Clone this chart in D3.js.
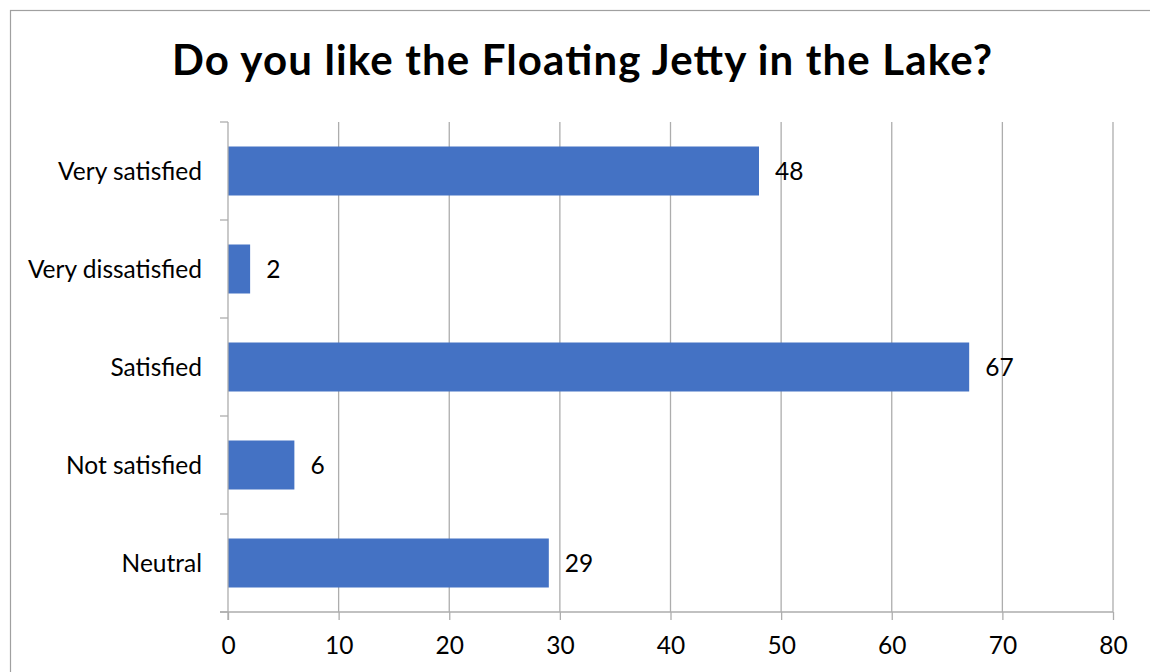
<!DOCTYPE html>
<html>
<head>
<meta charset="utf-8">
<script src="https://cdn.jsdelivr.net/npm/d3@7"></script>
<style>
  html, body { margin: 0; padding: 0; background: #fff; }
  svg { display: block; }
</style>
</head>
<body>
<svg id="chart" width="1150" height="672"></svg>
<script>
// Survey responses
const categories = ["Very satisfied", "Very dissatisfied", "Satisfied", "Not satisfied", "Neutral"];
const counts = [48, 2, 67, 6, 29];
const xTicks = [0, 10, 20, 30, 40, 50, 60, 70, 80];
const title = "Do you like the Floating Jetty in the Lake?";

const svg = d3.select("#chart");
const W = 1150, H = 672;
const font = "Lato, 'Open Sans', sans-serif";
const gridColor = "#adadad";
const labelSize = 24.5;

// Outer chart frame
svg.append("rect")
  .attr("x", 10.5).attr("y", 10.5)
  .attr("width", W + 10).attr("height", H + 10)
  .attr("fill", "#fff").attr("stroke", "#a0a0a0").attr("stroke-width", 1.2);

const plot = { left: 228, right: 1113, top: 122, bottom: 612 };

const x = d3.scaleLinear().domain([0, 80]).range([plot.left, plot.right]);
const y = d3.scaleBand().domain(categories)
  .range([plot.top, plot.bottom])
  .paddingInner(0.5).paddingOuter(0.25);

// Title
svg.append("text")
  .attr("x", 582).attr("y", 75)
  .attr("text-anchor", "middle")
  .attr("font-family", font).attr("font-weight", 700)
  .attr("font-size", 42)
  .attr("textLength", 820).attr("lengthAdjust", "spacing")
  .attr("fill", "#000")
  .text(title);

// Vertical gridlines
svg.append("g").selectAll("line")
  .data(xTicks.filter(d => d > 0))
  .join("line")
  .attr("x1", d => x(d)).attr("x2", d => x(d))
  .attr("y1", plot.top).attr("y2", plot.bottom)
  .attr("stroke", gridColor).attr("stroke-width", 1.3);

// Bars
const rows = categories.map((c, i) => ({ cat: c, val: counts[i] }));
svg.append("g").selectAll("rect")
  .data(rows)
  .join("rect")
  .attr("x", x(0))
  .attr("y", d => y(d.cat))
  .attr("width", d => x(d.val) - x(0))
  .attr("height", y.bandwidth())
  .attr("fill", "#4472c4");

// X axis
const xAxis = svg.append("g")
  .attr("transform", `translate(0,${plot.bottom})`)
  .call(d3.axisBottom(x).tickValues(xTicks).tickSize(8).tickPadding(17).tickFormat(d3.format("d")));
xAxis.select(".domain").attr("stroke", gridColor).attr("stroke-width", 1.3).attr("d", `M${plot.left - 8},0H${plot.right}`);
xAxis.selectAll(".tick line").attr("stroke", gridColor).attr("stroke-width", 1.3);
xAxis.selectAll(".tick text")
  .attr("font-family", font).attr("font-size", labelSize).attr("fill", "#000");

// Y axis: ticks sit at band boundaries
const yAxis = svg.append("g").attr("transform", `translate(${plot.left},0)`);
yAxis.append("line")
  .attr("x1", 0).attr("x2", 0)
  .attr("y1", plot.top).attr("y2", plot.bottom + 8)
  .attr("stroke", gridColor).attr("stroke-width", 1.3);
const boundaries = d3.range(categories.length + 1).map(i => plot.top + i * y.step());
yAxis.selectAll("line.tk")
  .data(boundaries)
  .join("line").attr("class", "tk")
  .attr("x1", -8).attr("x2", 0)
  .attr("y1", d => d).attr("y2", d => d)
  .attr("stroke", gridColor).attr("stroke-width", 1.3);
yAxis.selectAll("text")
  .data(categories)
  .join("text")
  .attr("x", -26)
  .attr("y", d => y(d) + y.bandwidth() / 2)
  .attr("dy", "0.35em")
  .attr("text-anchor", "end")
  .attr("font-family", font).attr("font-size", labelSize).attr("fill", "#000")
  .text(d => d);

// Value labels
svg.append("g").selectAll("text")
  .data(rows)
  .join("text")
  .attr("x", d => x(d.val) + 16)
  .attr("y", d => y(d.cat) + y.bandwidth() / 2)
  .attr("dy", "0.35em")
  .attr("font-family", font).attr("font-size", labelSize).attr("fill", "#000")
  .text(d => d.val);
</script>
</body>
</html>
